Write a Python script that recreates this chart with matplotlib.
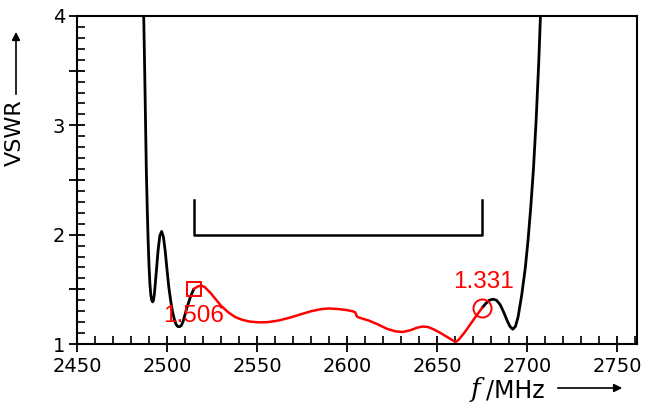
import matplotlib
matplotlib.use("Agg")
import matplotlib.pyplot as plt
from matplotlib.ticker import MultipleLocator, FuncFormatter

# Black curve, lower band edge (MHz, VSWR)
f_left = [2487.0, 2487.5, 2488.0, 2488.5, 2489.0, 2489.5, 2490.0, 2490.5, 2491.0,
          2491.5, 2492.0, 2492.5, 2493.0, 2494.0, 2495.0, 2496.0, 2497.0, 2498.0,
          2499.0, 2500.0, 2501.0, 2502.0, 2503.0, 2504.0, 2505.0, 2506.0, 2507.0,
          2508.0, 2509.0, 2510.0, 2511.0, 2512.0, 2513.0, 2514.0, 2515.0]
v_left = [4.05, 3.6, 3.1, 2.6, 2.25, 1.95, 1.72, 1.55, 1.45,
          1.40, 1.385, 1.40, 1.46, 1.65, 1.85, 1.99, 2.03, 1.98,
          1.85, 1.68, 1.52, 1.40, 1.30, 1.23, 1.18, 1.16, 1.158,
          1.17, 1.21, 1.27, 1.33, 1.38, 1.43, 1.47, 1.506]

# Red curve, in-band (MHz, VSWR)
f_band = [2515, 2517, 2519, 2521, 2524, 2527, 2530, 2534, 2538, 2542, 2546, 2551,
          2556, 2562, 2568, 2574, 2580, 2586, 2590, 2595, 2600, 2603, 2604.5,
          2605.5, 2607, 2612, 2617, 2622, 2627, 2631, 2635, 2639, 2642, 2645,
          2648, 2652, 2656, 2659, 2660.5, 2662, 2665, 2668, 2671, 2675]
v_band = [1.506, 1.525, 1.535, 1.52, 1.47, 1.41, 1.35, 1.29, 1.245, 1.22, 1.205, 1.198,
          1.20, 1.215, 1.24, 1.27, 1.30, 1.32, 1.325, 1.32, 1.31, 1.30, 1.29,
          1.25, 1.24, 1.215, 1.18, 1.14, 1.115, 1.11, 1.125, 1.15, 1.16, 1.155,
          1.135, 1.10, 1.06, 1.03, 1.02, 1.04, 1.10, 1.17, 1.24, 1.331]

# Black curve, upper band edge
f_right = [2675, 2677, 2679, 2681, 2683, 2685, 2687, 2689, 2690.5, 2692, 2693.5,
           2695, 2697, 2699, 2700.5, 2702, 2703.5, 2705, 2706.5, 2707.5]
v_right = [1.331, 1.37, 1.40, 1.41, 1.40, 1.36, 1.29, 1.21, 1.16, 1.135, 1.16,
           1.25, 1.45, 1.70, 1.95, 2.25, 2.6, 3.05, 3.6, 4.05]

# Markers
mark_f = [2515, 2675]
mark_v = [1.506, 1.331]
mark_labels = ["1.506", "1.331"]

# Specification bracket
spec_f = [2515, 2675]
spec_v = 2.0
spec_top = 2.32

fig = plt.figure(figsize=(6.48, 4.05), dpi=100)
ax = fig.add_axes([0.1188, 0.1506, 0.983 - 0.1188, 0.9605 - 0.1506])

ax.plot(f_left, v_left, color="black", lw=2.0, solid_capstyle="butt", zorder=3)
ax.plot(f_right, v_right, color="black", lw=2.0, solid_capstyle="butt", zorder=3)
ax.plot(f_band, v_band, color="#ff0000", lw=1.8, zorder=4)

ax.plot([spec_f[0], spec_f[0], spec_f[1], spec_f[1]],
        [spec_top, spec_v, spec_v, spec_top], color="black", lw=1.8, zorder=3)

ax.plot(mark_f[0], mark_v[0], marker="s", ms=10, mfc="none", mec="#ff0000", mew=1.4, zorder=5)
ax.plot(mark_f[1], mark_v[1], marker="o", ms=13, mfc="none", mec="#ff0000", mew=1.4, zorder=5)

ax.text(mark_f[0], 1.256, mark_labels[0], color="#ff0000", fontsize=17.5,
        family="Liberation Sans", ha="center", va="center", zorder=6)
ax.text(2676, 1.567, mark_labels[1], color="#ff0000", fontsize=17.5,
        family="Liberation Sans", ha="center", va="center", zorder=6)

ax.set_xlim(2450, 2761)
ax.set_ylim(1, 4)

ax.xaxis.set_major_locator(MultipleLocator(50))
ax.xaxis.set_minor_locator(MultipleLocator(10))
ax.yaxis.set_major_locator(MultipleLocator(0.5))
ax.yaxis.set_minor_locator(MultipleLocator(0.1))
ax.yaxis.set_major_formatter(FuncFormatter(lambda v, p: f"{int(round(v))}" if abs(v - round(v)) < 1e-6 else ""))
ax.xaxis.set_major_formatter(FuncFormatter(lambda v, p: f"{int(round(v))}"))

ax.tick_params(which="major", direction="inout", length=11, width=1.3, labelsize=14, pad=3)
ax.tick_params(which="minor", direction="in", length=6, width=1.2)
ax.tick_params(axis="x", which="major", pad=4)

for s in ax.spines.values():
    s.set_linewidth(1.5)

# y label with arrow
fig.text(15 / 648, 1 - 133 / 405, "VSWR", rotation=90, fontsize=16,
         ha="center", va="center")
fig.add_artist(matplotlib.patches.FancyArrowPatch(
    (16 / 648, 1 - 97 / 405), (16 / 648, 1 - 29 / 405), transform=fig.transFigure,
    arrowstyle="-|>", mutation_scale=12, lw=1.2, color="black"))

# x label with arrow
fig.text(478 / 648, 1 - 390 / 405, r"$\mathit{f}$", fontsize=19, ha="center", va="center",
         math_fontfamily="dejavuserif")
fig.text(486 / 648, 1 - 390 / 405, "/MHz", fontsize=17, ha="left", va="center")
fig.add_artist(matplotlib.patches.FancyArrowPatch(
    (555 / 648, 1 - 388 / 405), (625 / 648, 1 - 388 / 405), transform=fig.transFigure,
    arrowstyle="-|>", mutation_scale=12, lw=1.2, color="black"))

fig.savefig("out.png", dpi=100)
